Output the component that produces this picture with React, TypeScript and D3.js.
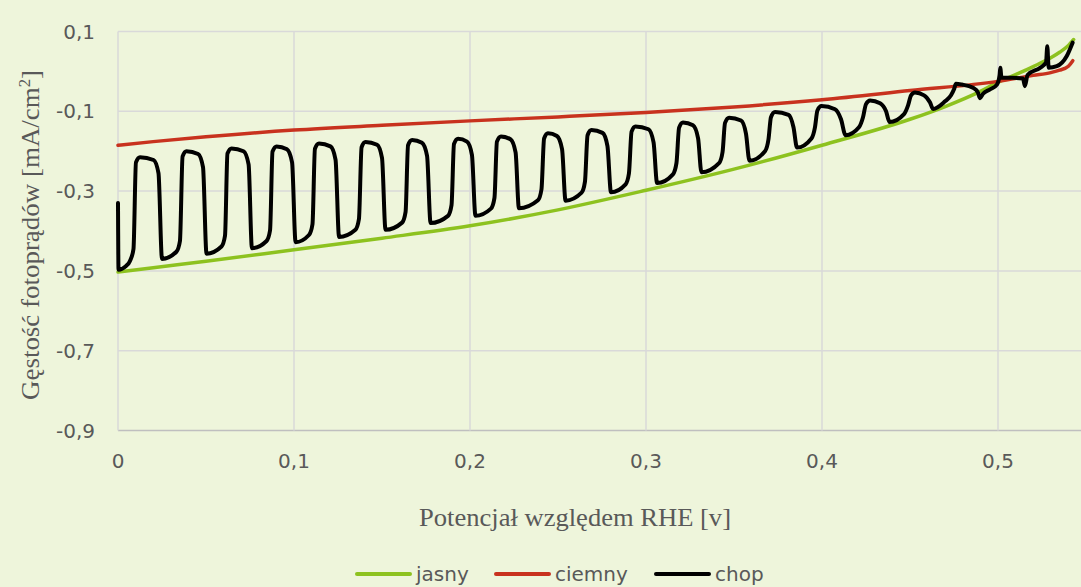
import React from "react";
import * as d3 from "d3";

const xTicks = [0, 0.1, 0.2, 0.3, 0.4, 0.5];
const xTickLabels = ["0", "0,1", "0,2", "0,3", "0,4", "0,5"];
const yTicks = [0.1, -0.1, -0.3, -0.5, -0.7, -0.9];
const yTickLabels = ["0,1", "-0,1", "-0,3", "-0,5", "-0,7", "-0,9"];

const seriesNames = ["jasny", "ciemny", "chop"];

// jasny (light)
const jasnyX = [0, 0.02, 0.05, 0.1, 0.15, 0.2, 0.25, 0.3, 0.35, 0.4, 0.45, 0.47, 0.49, 0.5, 0.51, 0.52, 0.53, 0.535, 0.54, 0.543];
const jasnyY = [-0.503, -0.492, -0.476, -0.447, -0.418, -0.387, -0.347, -0.298, -0.245, -0.185, -0.12, -0.088, -0.05, -0.027, -0.008, 0.012, 0.034, 0.048, 0.065, 0.08];

// ciemny (dark)
const ciemnyX = [0, 0.02, 0.05, 0.1, 0.15, 0.2, 0.25, 0.3, 0.35, 0.4, 0.45, 0.5, 0.52, 0.53, 0.535, 0.54, 0.5425];
const ciemnyY = [-0.185, -0.176, -0.164, -0.147, -0.135, -0.124, -0.114, -0.103, -0.089, -0.071, -0.048, -0.025, -0.01, -0.003, 0.003, 0.013, 0.027];

// chop (chopped light)
const chopPoints: [number, number][] = [
  [0, -0.33], [0.0003, -0.497], [0.0045, -0.488], [0.0068, -0.475], [0.0088, -0.445],
  [0.0102, -0.228], [0.0125, -0.215], [0.0202, -0.222], [0.023, -0.255], [0.025, -0.47],
  [0.0332, -0.452], [0.0352, -0.425], [0.0367, -0.213], [0.0389, -0.2], [0.0455, -0.207], [0.0483, -0.24], [0.0503, -0.457],
  [0.0588, -0.439], [0.0608, -0.412], [0.0622, -0.206], [0.0645, -0.193], [0.0713, -0.2], [0.0742, -0.233], [0.0761, -0.443],
  [0.0844, -0.425], [0.0864, -0.398], [0.0878, -0.201], [0.0901, -0.188], [0.096, -0.195], [0.0989, -0.228], [0.1009, -0.428],
  [0.1085, -0.41], [0.1105, -0.383], [0.1119, -0.194], [0.1142, -0.181], [0.1207, -0.188], [0.1236, -0.221], [0.1256, -0.415],
  [0.1349, -0.397], [0.1369, -0.37], [0.1384, -0.19], [0.1406, -0.177], [0.1472, -0.184], [0.15, -0.217], [0.152, -0.397],
  [0.1614, -0.379], [0.1634, -0.352], [0.1648, -0.185], [0.1671, -0.172], [0.1727, -0.179], [0.1756, -0.212], [0.1776, -0.38],
  [0.1875, -0.362], [0.1895, -0.335], [0.1909, -0.182], [0.1932, -0.169], [0.1983, -0.176], [0.2011, -0.209], [0.2031, -0.362],
  [0.2119, -0.344], [0.2139, -0.317], [0.2153, -0.176], [0.2176, -0.163], [0.223, -0.17], [0.2259, -0.203], [0.2278, -0.343],
  [0.2386, -0.323], [0.2406, -0.296], [0.2421, -0.168], [0.2443, -0.155], [0.2494, -0.162], [0.2523, -0.195], [0.2543, -0.324],
  [0.2634, -0.304], [0.2653, -0.277], [0.2668, -0.16], [0.269, -0.147], [0.2753, -0.154], [0.2781, -0.187], [0.2801, -0.303],
  [0.2884, -0.283], [0.2903, -0.256], [0.2918, -0.151], [0.294, -0.138], [0.3014, -0.145], [0.3043, -0.178], [0.3063, -0.28],
  [0.3153, -0.258], [0.3173, -0.23], [0.3188, -0.141], [0.321, -0.128], [0.3267, -0.135], [0.3296, -0.168], [0.3315, -0.253],
  [0.3415, -0.23], [0.3435, -0.202], [0.3449, -0.129], [0.3472, -0.116], [0.354, -0.123], [0.3568, -0.156], [0.3588, -0.224],
  [0.3676, -0.2], [0.3696, -0.17], [0.371, -0.115], [0.3733, -0.102], [0.381, -0.109], [0.3838, -0.14], [0.3858, -0.191],
  [0.394, -0.168], [0.396, -0.14], [0.3974, -0.098], [0.3997, -0.087], [0.4074, -0.095], [0.4108, -0.12], [0.4134, -0.16],
  [0.421, -0.14], [0.4233, -0.115], [0.425, -0.082], [0.4273, -0.073], [0.433, -0.08], [0.4364, -0.1], [0.4384, -0.127],
  [0.4466, -0.107], [0.4489, -0.085], [0.4506, -0.06], [0.4528, -0.053], [0.458, -0.06], [0.4614, -0.078], [0.4631, -0.094],
  [0.4699, -0.075], [0.4733, -0.06], [0.475, -0.045], [0.4761, -0.031], [0.4795, -0.033], [0.4858, -0.041], [0.4886, -0.053],
  [0.4898, -0.067], [0.4915, -0.056], [0.4955, -0.045], [0.4994, -0.033], [0.5009, -0.01], [0.5013, 0.009], [0.502, -0.016],
  [0.508, -0.016], [0.5142, -0.018], [0.5153, -0.037], [0.5168, -0.009], [0.5239, 0.009], [0.5273, 0.022], [0.528, 0.063],
  [0.5288, 0.009], [0.5334, 0.013], [0.539, 0.038], [0.5424, 0.072],
];

const W = 1081;
const H = 587;
const BG = "#eef5db";
const GRID = "#d9d9d9";
const TEXT = "#595959";
const COLORS = ["#8dc21f", "#c8321e", "#000000"];
const WIDTHS = [3.5, 3.5, 4];

export default function App() {
  const x = d3.scaleLinear().domain([0, 0.55]).range([118, 1086]);
  const y = d3.scaleLinear().domain([-0.9, 0.1]).range([430.5, 31.5]);

  const line = d3
    .line<[number, number]>()
    .x((d) => x(d[0]))
    .y((d) => y(d[1]))
    .curve(d3.curveMonotoneX);

  const jasny = jasnyX.map((v, i) => [v, jasnyY[i]] as [number, number]);
  const ciemny = ciemnyX.map((v, i) => [v, ciemnyY[i]] as [number, number]);
  const series = [jasny, ciemny, chopPoints];

  // legend layout
  const legendY = 574;
  const legendStarts = [357, 496, 656];

  return (
    <div style={{ position: "absolute", left: 0, top: 0 }}>
      <svg width={W} height={H} style={{ display: "block", background: BG }}>
        <rect width={W} height={H} fill={BG} />

        {/* horizontal grid */}
        {yTicks.map((t) => (
          <line
            key={"h" + t}
            x1={x(0)}
            x2={W}
            y1={y(t)}
            y2={y(t)}
            stroke={t === -0.9 ? "#bfbfbf" : GRID}
            strokeWidth={1.5}
          />
        ))}
        {/* vertical grid */}
        {xTicks.map((t) => (
          <line
            key={"v" + t}
            x1={x(t)}
            x2={x(t)}
            y1={y(0.1)}
            y2={y(-0.9)}
            stroke={GRID}
            strokeWidth={1.5}
          />
        ))}

        {/* y tick labels */}
        {yTicks.map((t, i) => (
          <text
            key={"yl" + t}
            x={95}
            y={y(t) + 7}
            textAnchor="end"
            fontFamily="DejaVu Sans"
            fontSize={20}
            fill={TEXT}
          >
            {yTickLabels[i]}
          </text>
        ))}
        {/* x tick labels */}
        {xTicks.map((t, i) => (
          <text
            key={"xl" + t}
            x={x(t)}
            y={468}
            textAnchor="middle"
            fontFamily="DejaVu Sans"
            fontSize={20}
            fill={TEXT}
          >
            {xTickLabels[i]}
          </text>
        ))}

        {/* axis titles */}
        <text
          x={575}
          y={526}
          textAnchor="middle"
          fontFamily="Liberation Serif"
          fontSize={26}
          fill={TEXT}
          textLength={312}
          lengthAdjust="spacingAndGlyphs"
        >
          Potencjał względem RHE [v]
        </text>
        <text
          transform="translate(39,235) rotate(-90)"
          textAnchor="middle"
          fontFamily="Liberation Serif"
          fontSize={26}
          fill={TEXT}
          textLength={330}
          lengthAdjust="spacingAndGlyphs"
        >
          Gęstość fotoprądów [mA/cm<tspan fontSize={16} dy={-9}>2</tspan><tspan dy={9}>]</tspan>
        </text>

        {/* series */}
        {series.map((s, i) => (
          <path
            key={seriesNames[i]}
            d={line(s) || ""}
            fill="none"
            stroke={COLORS[i]}
            strokeWidth={WIDTHS[i]}
            strokeLinejoin="round"
            strokeLinecap="round"
          />
        ))}

        {/* legend */}
        {seriesNames.map((name, i) => (
          <g key={"lg" + name} transform={`translate(${legendStarts[i]},${legendY})`}>
            <line x1={0} x2={53} y1={0} y2={0} stroke={COLORS[i]} strokeWidth={4} strokeLinecap="round" />
            <text x={59} y={7} fontFamily="DejaVu Sans" fontSize={20} fill={TEXT}>
              {name}
            </text>
          </g>
        ))}
      </svg>
    </div>
  );
}
